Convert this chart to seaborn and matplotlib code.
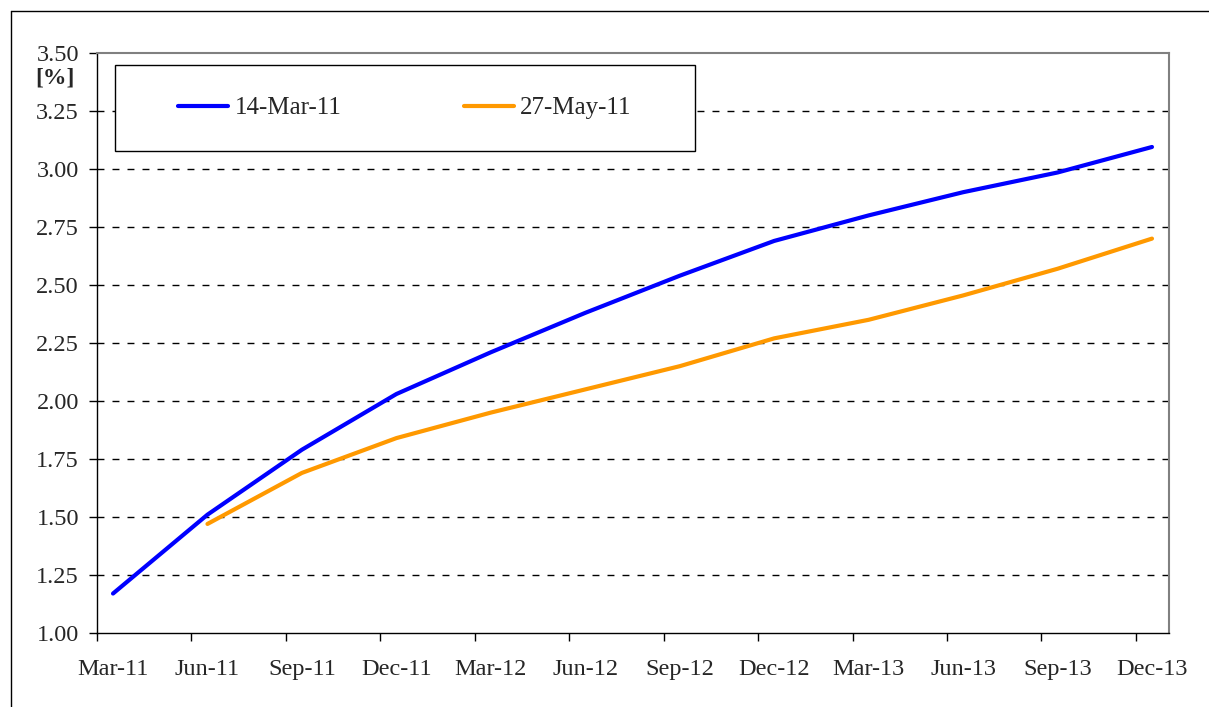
import numpy as np
import pandas as pd
import matplotlib
matplotlib.use("Agg")
import matplotlib.pyplot as plt
import seaborn as sns
from matplotlib.patches import Rectangle
from matplotlib.lines import Line2D

# values
quarters = ["Mar-11", "Jun-11", "Sep-11", "Dec-11", "Mar-12", "Jun-12",
            "Sep-12", "Dec-12", "Mar-13", "Jun-13", "Sep-13", "Dec-13"]
curve_14mar = [1.17, 1.51, 1.79, 2.03, 2.21, 2.38, 2.54, 2.69, 2.80, 2.90, 2.985, 3.095]
curve_27may = [np.nan, 1.47, 1.69, 1.84, 1.95, 2.05, 2.15, 2.27, 2.35, 2.455, 2.57, 2.70]
series_names = ["14-Mar-11", "27-May-11"]
series_colors = ["#0000FF", "#FF9900"]
y_ticks = [1.00, 1.25, 1.50, 1.75, 2.00, 2.25, 2.50, 2.75, 3.00, 3.25, 3.50]

pos = np.arange(len(quarters))
df = pd.concat([
    pd.DataFrame({"pos": pos, "value": curve_14mar, "curve": series_names[0]}),
    pd.DataFrame({"pos": pos, "value": curve_27may, "curve": series_names[1]}),
]).dropna()

sns.set_style("white")
plt.rcParams["font.family"] = ["Liberation Serif", "DejaVu Serif"]

fig = plt.figure(figsize=(12.09, 7.07), dpi=100)
ax = fig.add_axes([0.0802, 0.1047, 0.8867, 0.8203])

sns.lineplot(data=df, x="pos", y="value", hue="curve", hue_order=series_names,
             palette=series_colors, linewidth=3.0, solid_capstyle="round",
             legend=False, ax=ax)

ax.set_xlim(-0.17, 11.18)
ax.set_ylim(1.0, 3.5)
ax.set_xlabel("")
ax.set_ylabel("")

# labels sit on the data points, tick marks sit between them
ax.set_xticks(pos)
ax.set_xticklabels(quarters)
ax.set_xticks(pos - 0.17, minor=True)
ax.tick_params(axis="x", which="major", length=0, pad=19, labelsize=17.5)
ax.tick_params(axis="x", which="minor", length=6, width=1, color="black",
               direction="out", bottom=True)
ax.set_yticks(y_ticks)
ax.set_yticklabels([f"{v:.2f}" for v in y_ticks])
ax.tick_params(axis="y", length=6, width=1, color="black", direction="out",
               left=True, pad=7, labelsize=17.5)

# dashed horizontal grid
for v in y_ticks[1:-1]:
    ax.axhline(v, color="black", linewidth=1, linestyle=(0, (5, 5.8)), zorder=0.5)

for side in ["left", "bottom"]:
    ax.spines[side].set_color("black")
    ax.spines[side].set_linewidth(1)
for side in ["top", "right"]:
    ax.spines[side].set_color("#808080")
    ax.spines[side].set_linewidth(1.5)

# legend box
ax.add_patch(Rectangle((0.0168, 0.831), 0.541, 0.148, transform=ax.transAxes,
                       facecolor="white", edgecolor="black", linewidth=1, zorder=3))
leg = ax.legend(handles=ax.lines[:2], labels=series_names, ncol=2, frameon=False,
                loc="center", bbox_to_anchor=(0.2873, 0.905), bbox_transform=ax.transAxes,
                fontsize=18, handlelength=2.0, handletextpad=0.25, columnspacing=4.9)
leg.set_zorder(4)

fig.text(35 / 1209, 1 - 78 / 707, "[%]", fontsize=17, fontweight="bold",
         ha="left", va="center")

# outer chart frame
fig.add_artist(Line2D([11 / 1209, 11 / 1209], [0, 1 - 11 / 707], color="black",
                      linewidth=1, transform=fig.transFigure))
fig.add_artist(Line2D([11 / 1209, 1], [1 - 11 / 707, 1 - 11 / 707], color="black",
                      linewidth=1, transform=fig.transFigure))

fig.savefig("out.png", dpi=100)
